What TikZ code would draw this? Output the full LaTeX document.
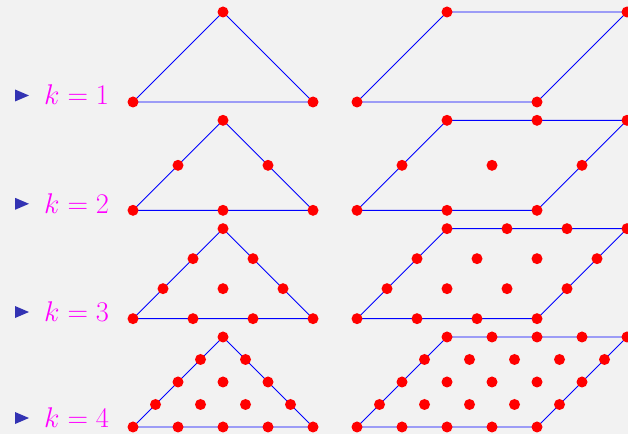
\RequirePackage{fix-cm}
\documentclass[tikz,border=0pt]{standalone}
\usepackage{tikz}
\definecolor{bgc}{RGB}{242,242,242}
\definecolor{bulletblue}{RGB}{51,51,179}
\definecolor{linec}{RGB}{0,0,255}
\definecolor{kmag}{RGB}{255,0,255}
\tikzset{
  dot/.style={circle,fill=red,draw=none,inner sep=0pt,minimum size=11pt},
  edge/.style={draw=linec,line width=0.9pt,line join=round},
  klabel/.style={anchor=base west,inner sep=0pt,text=kmag,font=\fontsize{28.5}{34}\selectfont}
}
\begin{document}
\begin{tikzpicture}[x=1pt,y=1pt]
\fill[bgc] (0,0) rectangle (628,434);
\useasboundingbox (0,0) rectangle (628,434);
\begin{scope}
\clip (0,0) rectangle (628,434);
\foreach \k/\L in {1/329,2/220.7,3/112.5,4/6.5}{
  \pgfmathsetmacro{\B}{332-(\k-1)*108.33}
  \pgfmathsetmacro{\s}{180/\k}
  \pgfmathsetmacro{\h}{90/\k}
  \foreach \j in {0,...,\k}{
    \pgfmathtruncatemacro{\m}{\k-\j}
    \foreach \i in {0,...,\m}{
      \coordinate (t\k-\i-\j) at ({133+\s*(\i+\j/2)},{\B+\h*\j});
    }
    \foreach \i in {0,...,\k}{
      \coordinate (p\k-\i-\j) at ({357+\s*(\i+\j/2)},{\B+\h*\j});
    }
  }
  \draw[edge] (t\k-0-0) -- (t\k-\k-0) -- (t\k-0-\k) -- cycle;
  \draw[edge] (p\k-0-0) -- (p\k-\k-0) -- (p\k-\k-\k) -- (p\k-0-\k) -- cycle;
  \foreach \j in {0,...,\k}{
    \pgfmathtruncatemacro{\m}{\k-\j}
    \foreach \i in {0,...,\m}{
      \node[dot] (dt\k-\i-\j) at (t\k-\i-\j) {};
    }
    \foreach \i in {0,...,\k}{
      \node[dot] (dp\k-\i-\j) at (p\k-\i-\j) {};
    }
  }
  \fill[bulletblue] (15,{\L+15.5}) -- (29,{\L+9.5}) -- (15,{\L+3.5}) -- cycle;
  \node[klabel] (lab\k) at (44,\L) {$k=\k$};
}
\end{scope}
\end{tikzpicture}
\end{document}
